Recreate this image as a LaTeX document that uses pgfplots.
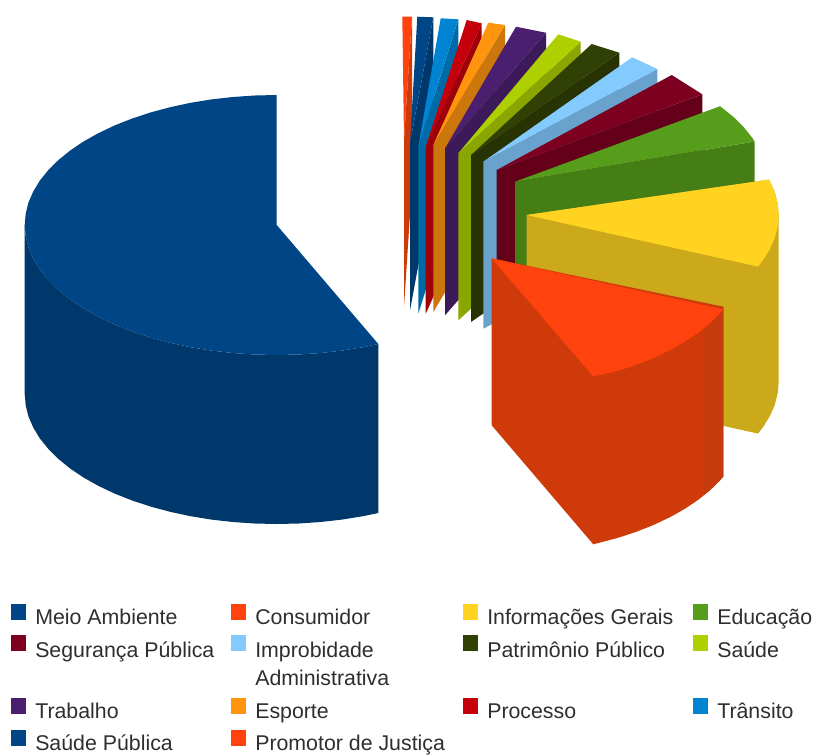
\documentclass[border=0pt]{standalone}
\usepackage{pgfplots}
\pgfplotsset{compat=1.18}
\usepackage{fontspec}
\setmainfont{Liberation Sans}
\definecolor{cA}{HTML}{004586}\definecolor{cAs}{HTML}{00386B}
\definecolor{cB}{HTML}{FF420E}\definecolor{cBs}{HTML}{CF3A0A}\definecolor{cBt}{HTML}{C63B0E}
\definecolor{cC}{HTML}{FFD320}\definecolor{cCs}{HTML}{CCA91A}
\definecolor{cD}{HTML}{579D1C}\definecolor{cDs}{HTML}{467E16}
\definecolor{cE}{HTML}{7E0021}\definecolor{cEs}{HTML}{65001A}
\definecolor{cF}{HTML}{83CAFF}\definecolor{cFs}{HTML}{69A2CC}
\definecolor{cG}{HTML}{314004}\definecolor{cGs}{HTML}{273303}
\definecolor{cH}{HTML}{AECF00}\definecolor{cHs}{HTML}{8BA600}
\definecolor{cI}{HTML}{4B1F6F}\definecolor{cIs}{HTML}{3C1959}
\definecolor{cJ}{HTML}{FF950E}\definecolor{cJs}{HTML}{CC770B}
\definecolor{cK}{HTML}{C5000B}\definecolor{cKs}{HTML}{9E0009}
\definecolor{cL}{HTML}{0084D1}\definecolor{cLs}{HTML}{006AA7}
\newcommand{\poly}[2]{\addplot[fill=#1,draw=none,no marks,forget plot] coordinates {#2} -- cycle;}
\newcommand{\lab}[3]{\node[anchor=base west,inner sep=0pt,text=black!82,font=\fontsize{16pt}{18pt}\selectfont] at (axis cs:#1,#2) {#3};}
\begin{document}
\begin{tikzpicture}
\path[use as bounding box] (0,0) rectangle (612pt,565.5pt);
\begin{axis}[hide axis,scale only axis,width=612pt,height=565.5pt,xmin=0,xmax=816,ymin=0,ymax=754,y dir=reverse,clip=true]
% Main slice: Meio Ambiente
\poly{cAs}{(24.7,225)(25.7,236.3)(28.5,247.6)(33.3,258.6)(39.9,269.5)(48.3,279.9)(58.5,290)(70.3,299.6)(83.7,308.6)(98.5,316.9)(114.7,324.6)(132.2,331.5)(150.7,337.6)(170.2,342.8)(190.5,347.2)(211.5,350.6)(232.9,353)(254.7,354.5)(276.7,355)(298.7,354.5)(320.5,353)(341.9,350.6)(362.9,347.2)(378.3,344)(378.3,513)(362.9,516.2)(341.9,519.6)(320.5,522)(298.7,523.5)(276.7,524)(254.7,523.5)(232.9,522)(211.5,519.6)(190.5,516.2)(170.2,511.8)(150.7,506.6)(132.2,500.5)(114.7,493.6)(98.5,485.9)(83.7,477.6)(70.3,468.6)(58.5,459)(48.3,448.9)(39.9,438.5)(33.3,427.6)(28.5,416.6)(25.7,405.3)(24.7,394)}
\poly{cA}{(276.7,95)(254.7,95.5)(232.9,97)(211.5,99.4)(190.5,102.8)(170.2,107.2)(150.7,112.4)(132.2,118.5)(114.7,125.4)(98.5,133.1)(83.7,141.4)(70.3,150.4)(58.5,160)(48.3,170.1)(39.9,180.5)(33.3,191.4)(28.5,202.4)(25.7,213.7)(24.7,225)(25.7,236.3)(28.5,247.6)(33.3,258.6)(39.9,269.5)(48.3,279.9)(58.5,290)(70.3,299.6)(83.7,308.6)(98.5,316.9)(114.7,324.6)(132.2,331.5)(150.7,337.6)(170.2,342.8)(190.5,347.2)(211.5,350.6)(232.9,353)(254.7,354.5)(276.7,355)(298.7,354.5)(320.5,353)(341.9,350.6)(362.9,347.2)(378.3,344)(276.7,225)}
% Promotor de Justica
\poly{cBs}{(404,140)(412,16.7)(412,183.7)(404,307)}
\poly{cB}{(404,140)(402.3,16.7)(412,16.7)}
% Saude Publica
\poly{cAs}{(410,143.3)(433.3,17.3)(433.3,184.3)(410,310.3)}
\poly{cA}{(410,143.3)(417.3,16.7)(433.3,17.3)}
% Transito
\poly{cLs}{(418.3,146.7)(458.3,19.3)(458.3,186.3)(418.3,313.7)}
\poly{cL}{(418.3,146.7)(440.7,18.3)(458.3,19.3)}
% Processo
\poly{cKs}{(425.7,146.7)(481.7,23.3)(481.7,190.3)(425.7,313.7)}
\poly{cK}{(425.7,146.7)(466.7,20)(481.7,23.3)}
% Esporte
\poly{cJs}{(433.3,145)(505,25)(505,192)(433.3,312)}
\poly{cJ}{(433.3,145)(488.3,22.7)(505,25)}
% Trabalho
\poly{cIs}{(445,148.3)(546,32.7)(546,199.7)(445,315.3)}
\poly{cI}{(445,148.3)(516,26.7)(546,32.7)}
% Saude
\poly{cHs}{(458.3,153.3)(580.7,41.7)(580.7,208.7)(458.3,320.3)}
\poly{cH}{(458.3,153.3)(558.3,34.3)(580.7,41.7)}
% Patrimonio Publico
\poly{cGs}{(471,155)(619.3,52.7)(619.3,219.7)(471,322)}
\poly{cG}{(471,155)(591.7,44)(619.3,52.7)}
% Improbidade Administrativa
\poly{cFs}{(483.3,161.7)(657.3,69)(657.3,236)(483.3,328.7)}
\poly{cF}{(483.3,161.7)(632.3,57.3)(657.3,69)}
% Seguranca Publica
\poly{cEs}{(496.7,170)(702.3,94.3)(702.3,261.3)(496.7,337)}
\poly{cE}{(496.7,170)(671.7,75)(702.3,94.3)}
% Educacao
\poly{cDs}{(515,181.7)(754.7,141.5)(754.7,308.5)(515,348.7)}
\poly{cD}{(515,181.7)(720.1,106.2)(733.2,116.7)(743.4,126.8)(751.8,137.2)(754.7,141.5)}
% Informacoes Gerais
\poly{cCs}{(526.7,215)(769,179.6)(774.9,192.4)(777.7,203.7)(778.7,215)(778.7,382)(777.7,393.3)(774.9,404.6)(770.1,415.6)(763.5,426.5)(758,433.6)(526.7,382)}
\poly{cC}{(526.7,215)(769,179.6)(774.9,192.4)(777.7,203.7)(778.7,215)(777.7,226.3)(774.9,237.6)(770.1,248.6)(763.5,259.5)(758,266.6)}
% Consumidor
\poly{cBs}{(491.7,258.3)(491.7,425.3)(593.3,544.3)(617.7,537.9)(636.2,531.8)(653.7,524.9)(669.9,517.2)(684.7,508.9)(698.1,499.9)(709.9,490.3)(720.1,480.2)(723.3,476.5)(723.3,306.7)}
\poly{cBt}{(704,330)(723.3,306.7)(723.3,476.5)(720.1,480.2)(709.9,490.3)(704,495)}
\poly{cB}{(491.7,258.3)(723.3,309.5)(720.1,313.2)(709.9,323.3)(698.1,332.9)(684.7,341.9)(669.9,350.2)(653.7,357.9)(636.2,364.8)(617.7,370.9)(593.3,376.5)}
% Legend swatches
\poly{cA}{(11,604)(26,604)(26,620)(11,620)}
\poly{cB}{(231,604)(246,604)(246,620)(231,620)}
\poly{cC}{(463,604)(478,604)(478,620)(463,620)}
\poly{cD}{(693,604)(708,604)(708,620)(693,620)}
\poly{cE}{(11,635)(26,635)(26,651)(11,651)}
\poly{cF}{(231,635)(246,635)(246,651)(231,651)}
\poly{cG}{(463,635)(478,635)(478,651)(463,651)}
\poly{cH}{(693,635)(708,635)(708,651)(693,651)}
\poly{cI}{(11,698)(26,698)(26,714)(11,714)}
\poly{cJ}{(231,698)(246,698)(246,714)(231,714)}
\poly{cK}{(463,698)(478,698)(478,714)(463,714)}
\poly{cL}{(693,698)(708,698)(708,714)(693,714)}
\poly{cA}{(11,730)(26,730)(26,746)(11,746)}
\poly{cB}{(231,730)(246,730)(246,746)(231,746)}
\lab{35}{624.5}{Meio Ambiente}
\lab{255}{624.5}{Consumidor}
\lab{487}{624.5}{Informações Gerais}
\lab{717}{624.5}{Educação}
\lab{35}{657}{Segurança Pública}
\lab{255}{657}{Improbidade}
\lab{255}{685}{Administrativa}
\lab{487}{657}{Patrimônio Público}
\lab{717}{657}{Saúde}
\lab{35}{718}{Trabalho}
\lab{255}{718}{Esporte}
\lab{487}{718}{Processo}
\lab{717}{718}{Trânsito}
\lab{35}{750.5}{Saúde Pública}
\lab{255}{750.5}{Promotor de Justiça}
\end{axis}
\end{tikzpicture}
\end{document}
